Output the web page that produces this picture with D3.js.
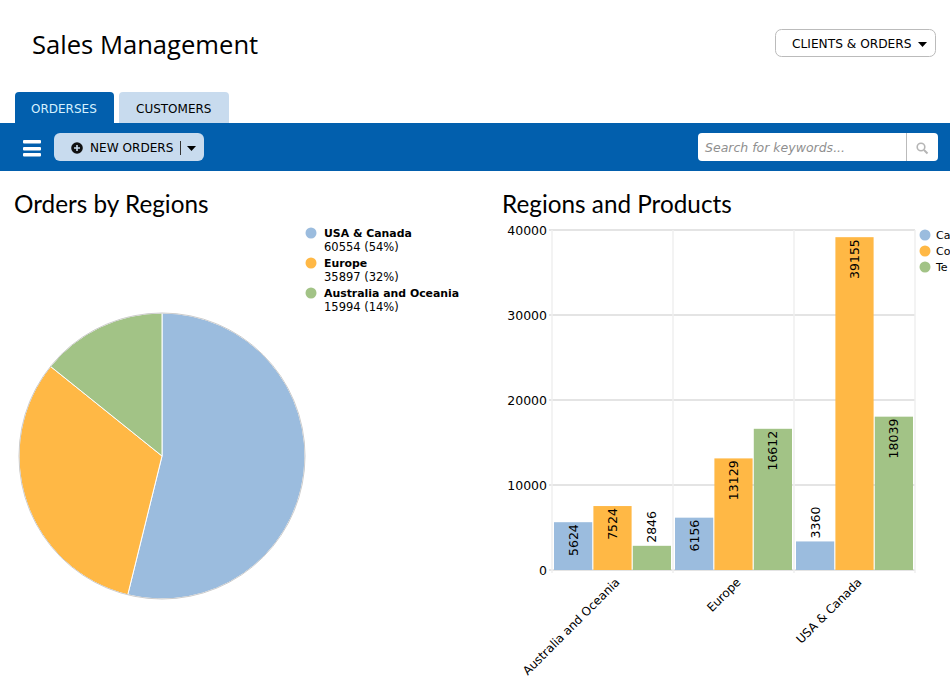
<!DOCTYPE html>
<html>
<head>
<meta charset="utf-8">
<title>Sales Management</title>
<script src="https://cdn.jsdelivr.net/npm/d3@7"></script>
<style>
  html, body { margin: 0; padding: 0; background: #fff; overflow: hidden; }
  svg { display: block; }
  text { font-family: "DejaVu Sans", sans-serif; fill: #000; }
  .heading { font-family: "Open Sans", sans-serif; }
  .section { font-family: Lato, sans-serif; }
</style>
</head>
<body>
<div id="chart"></div>
<script>
// data
const regions = ['USA & Canada', 'Europe', 'Australia and Oceania']
const regionTotals = [60554, 35897, 15994]
const regionShares = ['54%', '32%', '14%']

const barRegions = ['Australia and Oceania', 'Europe', 'USA & Canada']
// the reference cuts these names off at the window edge, only this much can be read
const products = ['Ca', 'Co', 'Te']
const caValues = [5624, 6156, 3360]
const coValues = [7524, 13129, 39155]
const teValues = [2846, 16612, 18039]
const yTicks = [0, 10000, 20000, 30000, 40000]

const colors = ['#9bbcde', '#ffb845', '#a2c386']
const navBlue = '#025fad'
const paleBlue = '#c8dbee'

const svg = d3.select('#chart').append('svg').attr('width', 950).attr('height', 688)

// page header
svg.append('text').attr('class', 'heading').attr('x', 32).attr('y', 54)
  .attr('font-size', 25.6).text('Sales Management')

svg.append('rect').attr('x', 775.5).attr('y', 29.5).attr('width', 160).attr('height', 27).attr('rx', 6)
  .attr('fill', '#fff').attr('stroke', '#bbb')
svg.append('text').attr('x', 792).attr('y', 48).attr('font-size', 12.2).text('CLIENTS & ORDERS')
svg.append('path').attr('d', 'M918 42h9l-4.5 5z').attr('fill', '#000')

// tabs
svg.append('path').attr('d', 'M15 123V96q0-4 4-4h91q4 0 4 4v27z').attr('fill', navBlue)
svg.append('path').attr('d', 'M119 123V96q0-4 4-4h102q4 0 4 4v27z').attr('fill', paleBlue)
svg.append('text').attr('x', 31).attr('y', 113).attr('font-size', 12).attr('style', 'fill:#d6f2ff').text('ORDERSES')
svg.append('text').attr('x', 136).attr('y', 113).attr('font-size', 12).text('CUSTOMERS')

// toolbar
svg.append('rect').attr('x', 0).attr('y', 123).attr('width', 950).attr('height', 48).attr('fill', navBlue)
svg.append('g').selectAll('rect').data([140, 147, 153]).join('rect')
  .attr('x', 23).attr('y', (d) => d).attr('width', 18).attr('height', 3.4).attr('rx', 1).attr('fill', '#fff')

svg.append('rect').attr('x', 54).attr('y', 133).attr('width', 150).attr('height', 28).attr('rx', 6).attr('fill', paleBlue)
svg.append('circle').attr('cx', 77).attr('cy', 148).attr('r', 5.8).attr('fill', '#111')
svg.append('path').attr('d', 'M74 148h6M77 145v6').attr('stroke', paleBlue).attr('stroke-width', 1.6)
svg.append('text').attr('x', 90).attr('y', 152).attr('font-size', 12.1).text('NEW ORDERS')
svg.append('path').attr('d', 'M180.5 141v14').attr('stroke', '#333')
svg.append('path').attr('d', 'M187 146h9l-4.5 5z').attr('fill', '#000')

svg.append('rect').attr('x', 698).attr('y', 133).attr('width', 240).attr('height', 28).attr('rx', 4).attr('fill', '#fff')
svg.append('path').attr('d', 'M906.5 133v28').attr('stroke', '#bbb')
svg.append('text').attr('x', 705).attr('y', 152).attr('font-size', 12.5).attr('font-style', 'italic')
  .attr('style', 'fill:#8f8f8f').text('Search for keywords...')
svg.append('circle').attr('cx', 921).attr('cy', 147).attr('r', 3.8).attr('fill', 'none').attr('stroke', '#b5b5b5').attr('stroke-width', 1.6)
svg.append('path').attr('d', 'M924 150l3.5 3.5').attr('stroke', '#b5b5b5').attr('stroke-width', 2)

// section titles
svg.append('text').attr('class', 'section').attr('x', 14).attr('y', 213).attr('font-size', 24.3).text('Orders by Regions')
svg.append('text').attr('class', 'section').attr('x', 502).attr('y', 213).attr('font-size', 24.3).text('Regions and Products')

// pie
const pie = d3.pie().sort(null)
const arc = d3.arc().innerRadius(0).outerRadius(143)
svg.append('g').attr('transform', 'translate(162,456)')
  .selectAll('path')
  .data(pie(regionTotals))
  .join('path')
  .attr('d', arc)
  .attr('fill', (d, i) => colors[i])
  .attr('stroke', '#fff')
  .attr('stroke-width', 1)

svg.append('circle').attr('cx', 162).attr('cy', 456).attr('r', 143)
  .attr('fill', 'none').attr('stroke', '#ccc').attr('stroke-width', 1)

// pie legend
const pieLegend = svg.append('g').selectAll('g').data(regions).join('g')
  .attr('transform', (d, i) => `translate(311,${233 + i * 30})`)
pieLegend.append('circle').attr('r', 5.5).attr('fill', (d, i) => colors[i])
pieLegend.append('text').attr('x', 13).attr('y', 4).attr('font-size', 10.9).attr('font-weight', 'bold').text((d) => d)
pieLegend.append('text').attr('x', 13).attr('y', 18).attr('font-size', 11.5)
  .text((d, i) => `${regionTotals[i]} (${regionShares[i]})`)

// bars
const seriesValues = [caValues, coValues, teValues]
const x = d3.scaleBand().domain(barRegions).range([552, 915])
const xInner = d3.scaleBand().domain(products).range([2, x.bandwidth() - 2]).paddingInner(0.03)
const y = d3.scaleLinear().domain([0, 40000]).range([570, 230])

const grid = svg.append('g')
grid.selectAll('line.h').data(yTicks).join('line').attr('class', 'h')
  .attr('x1', 549).attr('x2', 915).attr('y1', (d) => y(d)).attr('y2', (d) => y(d))
  .attr('stroke', '#e4e4e4').attr('stroke-width', 2)
grid.selectAll('line.v').data(barRegions.map((d) => x(d)).concat([915])).join('line').attr('class', 'v')
  .attr('x1', (d) => d).attr('x2', (d) => d).attr('y1', 230).attr('y2', 573)
  .attr('stroke', '#efefef').attr('stroke-width', 1.5)

const yAxis = svg.append('g').attr('transform', 'translate(552,0)')
  .call(d3.axisLeft(y).tickValues(yTicks).tickFormat(d3.format('d')).tickSize(0).tickPadding(5))
yAxis.select('.domain').remove()
yAxis.selectAll('text').attr('font-size', 12.5).attr('font-family', '"DejaVu Sans", sans-serif').attr('dy', '0.36em')

const xAxis = svg.append('g').attr('transform', 'translate(0,570)')
  .call(d3.axisBottom(x).tickSize(0).tickPadding(0))
xAxis.select('.domain').remove()
xAxis.selectAll('text')
  .attr('font-size', 11.9)
  .attr('font-family', '"DejaVu Sans", sans-serif')
  .attr('text-anchor', 'end')
  .attr('dy', 0)
  .attr('y', 0)
  .attr('transform', 'translate(8,13) rotate(-45)')

const groups = svg.append('g').selectAll('g').data(products).join('g')
  .attr('fill', (d, i) => colors[i])

groups.selectAll('rect')
  .data((d, i) => seriesValues[i].map((v, j) => ({ product: d, region: barRegions[j], value: v })))
  .join('rect')
  .attr('x', (d) => x(d.region) + xInner(d.product))
  .attr('y', (d) => y(d.value))
  .attr('width', xInner.bandwidth())
  .attr('height', (d) => y(0) - y(d.value))

// value labels sit inside the bar top, or above it when the bar is too short
groups.selectAll('text')
  .data((d, i) => seriesValues[i].map((v, j) => ({ product: d, region: barRegions[j], value: v })))
  .join('text')
  .attr('font-size', 12.5)
  .attr('text-anchor', (d) => (y(0) - y(d.value) > 40 ? 'end' : 'start'))
  .attr('transform', (d) => {
    const cx = x(d.region) + xInner(d.product) + xInner.bandwidth() / 2
    const inside = y(0) - y(d.value) > 40
    return `translate(${cx + 4.5},${y(d.value) + (inside ? 2 : -3)}) rotate(-90)`
  })
  .text((d) => d.value)

// bar legend
const barLegend = svg.append('g').selectAll('g').data(products).join('g')
  .attr('transform', (d, i) => `translate(925,${235 + i * 16})`)
barLegend.append('circle').attr('r', 5.5).attr('fill', (d, i) => colors[i])
barLegend.append('text').attr('x', 11).attr('y', 4).attr('font-size', 11).text((d) => d)
</script>
</body>
</html>
